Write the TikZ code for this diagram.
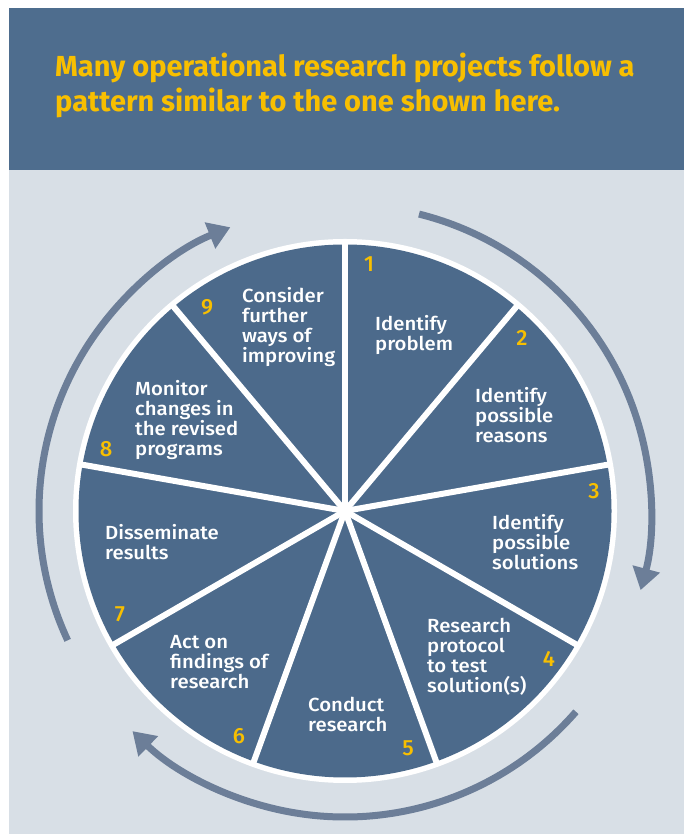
\documentclass[tikz,border=0pt]{standalone}
\usepackage{fontspec}
\setmainfont{Fira Sans}
\newfontfamily\wheelfont{Fira Sans Medium}[FakeStretch=1.07]
\newfontfamily\numfont{Fira Sans Medium}
\newfontfamily\titlefont{Fira Sans Bold}
\usetikzlibrary{arrows.meta,calc}
\definecolor{hdrblue}{HTML}{4E6D8E}
\definecolor{secblue}{HTML}{4C6A8B}
\definecolor{bggray}{HTML}{D8DFE6}
\definecolor{arrgray}{HTML}{6C7E98}
\definecolor{ocyellow}{HTML}{F8BF00}
\tikzset{
  steptext/.style={text=white, font=\wheelfont\fontsize{19}{20}\selectfont, align=left, anchor=west, inner sep=0pt},
  stepnum/.style={text=ocyellow, font=\numfont\fontsize{22}{24}\selectfont, inner sep=0pt},
  titleline/.style={text=ocyellow, font=\titlefont\fontsize{29}{32}\selectfont, anchor=base west, inner sep=0pt},
  cyclearrow/.style={draw=arrgray, line width=7pt, -{Triangle[width=27pt,length=22pt]}},
  divider/.style={draw=white, line width=6pt}
}
\begin{document}
\begin{tikzpicture}[x=1pt,y=1pt]
\useasboundingbox (0,0) rectangle (684,834);
\fill[white] (0,0) rectangle (684,834);
\fill[bggray] (9,0) rectangle (684,664);
\fill[hdrblue] (9,664) rectangle (684,826);
\node[titleline] (title1) at (55,757) {Many operational research projects follow a};
\node[titleline] (title2) at (55,722) {pattern similar to the one shown here.};
\coordinate (C) at (345,323);
\fill[white] (C) circle (272);
\fill[secblue] (C) circle (266.5);
\foreach \a in {90,50,10,-30,-70,-110,-150,170,130}
  \draw[divider] (C) -- ($(C)+(\a:269)$);
\coordinate (a1s) at ($(C)+(76:306)$);
\coordinate (a2s) at ($(C)+(-41:306)$);
\coordinate (a3s) at ($(C)+(205:306)$);
\draw[cyclearrow] (a1s) arc[start angle=76, end angle=-15, radius=306];
\draw[cyclearrow] (a2s) arc[start angle=-41, end angle=-134, radius=306];
\draw[cyclearrow] (a3s) arc[start angle=205, end angle=112, radius=306];
\node[steptext] (t1) at (375,499) {Identify\\problem};
\node[steptext] (t2) at (475,419) {Identify\\possible\\reasons};
\node[steptext] (t3) at (492,292) {Identify\\possible\\solutions};
\node[steptext] (t4) at (427,177) {Research\\protocol\\to test\\solution(s)};
\node[steptext] (t5) at (308,120) {Conduct\\research};
\node[steptext] (t6) at (170,172) {Act on\\findings of\\research};
\node[steptext] (t7) at (105,292) {Disseminate\\results};
\node[steptext] (t8) at (135,414) {Monitor\\changes in\\the revised\\programs};
\node[steptext] (t9) at (242,507) {Consider\\further\\ways of\\improving};
\node[stepnum] (n1) at (369,570) {1};
\node[stepnum] (n2) at (522,496) {2};
\node[stepnum] (n3) at (594,343) {3};
\node[stepnum] (n4) at (549,175) {4};
\node[stepnum] (n5) at (408,86) {5};
\node[stepnum] (n6) at (239,98) {6};
\node[stepnum] (n7) at (120,220) {7};
\node[stepnum] (n8) at (106,385) {8};
\node[stepnum] (n9) at (207,527) {9};
\end{tikzpicture}
\end{document}
